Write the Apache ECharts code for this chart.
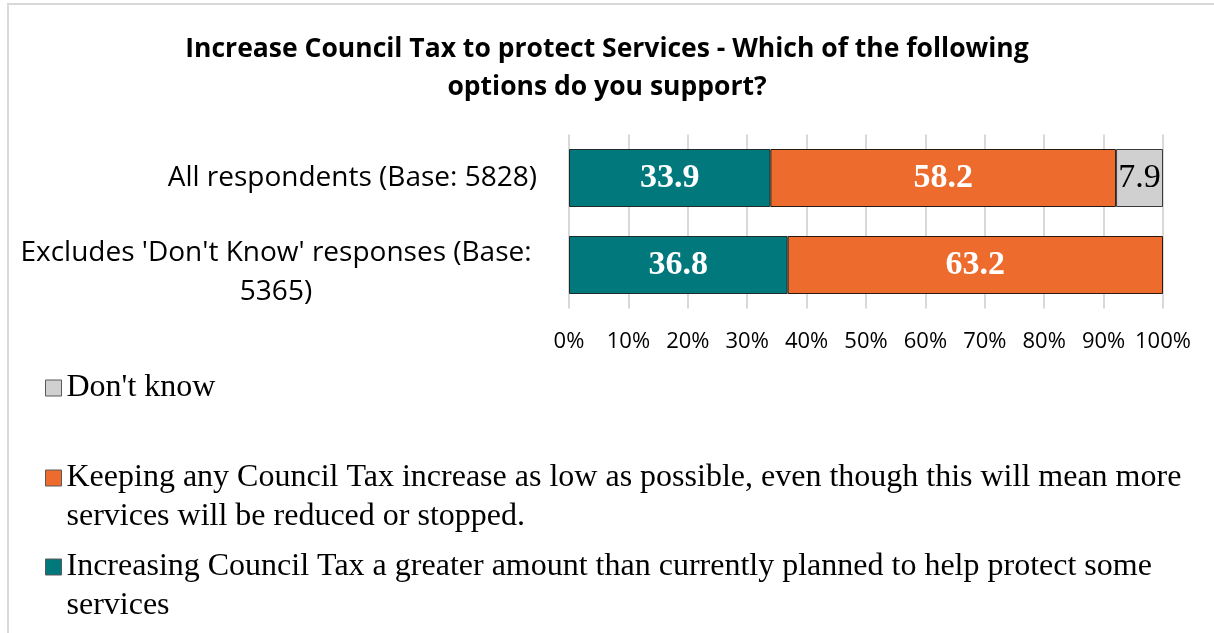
<!DOCTYPE html>
<html>
<head>
<meta charset="utf-8">
<script src="https://cdn.jsdelivr.net/npm/echarts@6/dist/echarts.min.js"></script>
<style>
  html, body { margin: 0; padding: 0; background: #fff; }
  #chart { width: 1214px; height: 633px; }
</style>
</head>
<body>
<div id="chart"></div>
<script>
const categories = ['All respondents (Base: 5828)', "Excludes 'Don't Know' responses (Base: 5365)"];
const increasing = [33.9, 36.8];
const keeping = [58.2, 63.2];
const dontKnow = [7.9, null];
const ticks = [0, 10, 20, 30, 40, 50, 60, 70, 80, 90, 100];

const nameInc = 'Increasing Council Tax a greater amount than currently planned to help protect some services';
const nameKeep = 'Keeping any Council Tax increase as low as possible, even though this will mean more services will be reduced or stopped.';
const nameDk = "Don't know";

// wrapped legend texts; the leading blank line keeps the icon level with the first line
const legendText = {};
legendText[nameInc] = '\nIncreasing Council Tax a greater amount than currently planned to help protect some\nservices';
legendText[nameKeep] = '\nKeeping any Council Tax increase as low as possible, even though this will mean more\nservices will be reduced or stopped.';
legendText[nameDk] = "Don't know";

const chart = echarts.init(document.getElementById('chart'));

const LH = 39;
const serif = '"Liberation Serif", "Times New Roman", serif';
const sans = '"Open Sans", "Noto Sans", sans-serif';

function makeLegend(name, iconCenter, lines) {
  return {
    data: [name],
    left: 45,
    top: lines > 1 ? iconCenter - 1.5 * LH : iconCenter - LH / 2,
    padding: 0,
    icon: 'rect',
    itemWidth: 16,
    itemHeight: 16,
    selectedMode: false,
    itemStyle: { borderColor: '#5a5a5a', borderWidth: 1 },
    formatter: n => legendText[n],
    textStyle: {
      fontFamily: serif,
      fontSize: 32,
      color: '#000',
      lineHeight: LH
    }
  };
}

const labelWhite = {
  show: true,
  position: 'inside',
  color: '#fff',
  fontFamily: serif,
  fontWeight: 'bold',
  fontSize: 34,
  formatter: p => p.value.toFixed(1)
};

chart.setOption({
  animation: false,
  backgroundColor: '#fff',
  title: {
    text: 'Increase Council Tax to protect Services - Which of the following\noptions do you support?',
    left: 'center',
    top: 30,
    padding: 0,
    textStyle: {
      fontFamily: sans,
      fontSize: 26.5,
      fontWeight: 'bold',
      color: '#000',
      lineHeight: 38
    }
  },
  graphic: [{
    type: 'rect',
    z: -10,
    shape: { x: 8, y: 4, width: 1400, height: 800 },
    style: { fill: 'none', stroke: '#d9d9d9', lineWidth: 2 }
  }],
  legend: [
    makeLegend(nameDk, 388, 1),
    makeLegend(nameKeep, 478, 2),
    makeLegend(nameInc, 567, 2)
  ],
  grid: { left: 569, right: 51, top: 134.5, height: 174, containLabel: false },
  xAxis: {
    type: 'value',
    min: 0,
    max: 100,
    interval: 10,
    axisLine: { show: false },
    axisTick: { show: false },
    splitLine: { show: true, lineStyle: { color: '#d9d9d9', width: 2 } },
    axisLabel: {
      margin: 22,
      fontFamily: sans,
      fontSize: 22,
      color: '#000',
      formatter: v => ticks.includes(v) ? v + '%' : ''
    }
  },
  yAxis: {
    type: 'category',
    inverse: true,
    data: categories,
    axisLine: { show: false },
    axisTick: { show: false },
    axisLabel: {
      margin: 32,
      fontFamily: sans,
      fontSize: 28,
      color: '#000',
      formatter: (v, i) => i === 1
        ? "{e| }\n{c|Excludes 'Don't Know' responses (Base:}\n{c|5365)}"
        : v,
      rich: {
        e: { fontSize: 8, lineHeight: 16 },
        c: { width: 522, align: 'center', fontFamily: sans, fontSize: 28, color: '#000', lineHeight: 39 }
      }
    }
  },
  series: [
    {
      name: nameInc, type: 'bar', stack: 'all', barWidth: 58, data: increasing,
      itemStyle: { color: '#00787c', borderColor: '#1f2a2a', borderWidth: 1 },
      label: labelWhite
    },
    {
      name: nameKeep, type: 'bar', stack: 'all', barWidth: 58, data: keeping,
      itemStyle: { color: '#ec6b2d', borderColor: '#2a1a12', borderWidth: 1 },
      label: labelWhite
    },
    {
      name: nameDk, type: 'bar', stack: 'all', barWidth: 58, data: dontKnow,
      itemStyle: { color: '#d0d0d0', borderColor: '#3a3a3a', borderWidth: 1 },
      label: {
        show: true, position: 'inside', color: '#000', fontFamily: serif,
        fontSize: 34, formatter: p => p.value.toFixed(1)
      }
    }
  ]
});
</script>
</body>
</html>
